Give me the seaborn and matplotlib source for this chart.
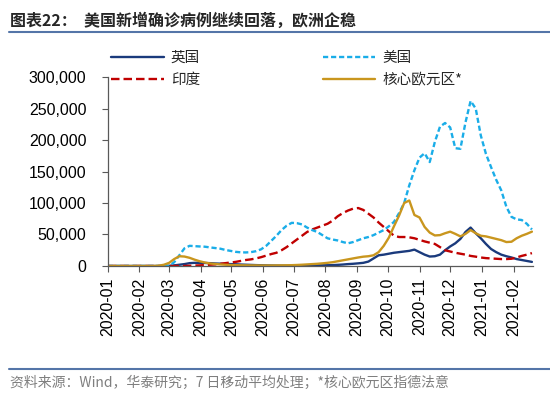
import numpy as np
import pandas as pd
import matplotlib
matplotlib.use("Agg")
import matplotlib.pyplot as plt
import matplotlib.dates as mdates
from matplotlib.ticker import FuncFormatter
from matplotlib.lines import Line2D
import seaborn as sns

# 7日移动平均，每5天取一个点（单位：千例）
dates = pd.date_range("2020-01-01", "2021-02-20", freq="5D")

uk = [0, 0, 0, 0, 0, 0, 0, 0, 0, 0, 0, 0,
      0.3, 1, 2, 3, 4.5, 5, 5, 4.8, 4.5, 4, 3.7, 3.3,
      3, 2.7, 2.3, 2, 1.7, 1.4, 1.2, 1, 0.8, 0.7, 0.6, 0.6,
      0.6, 0.6, 0.7, 0.8, 0.9, 1.0, 1.1, 1.2, 1.4, 1.8, 2.3, 3,
      3.5, 4.2, 5, 7, 12, 17, 18, 19.5, 21, 22, 23, 24,
      26, 22, 18, 15, 15.5, 18, 25, 31, 36, 43, 54, 61,
      52, 44, 35, 27, 22, 18, 15.5, 13.5, 11, 9.5, 8, 6.5]

us = [0, 0, 0, 0, 0, 0, 0, 0, 0, 0, 0, 0,
      0.5, 6, 17, 28, 32, 31.5, 31, 30.6, 29.5, 28.5, 27.5, 25.5,
      24, 22.5, 21.7, 21.5, 22, 23.5, 26.5, 32, 40, 48, 57, 64,
      68.5, 68, 66, 61, 57, 54, 49, 44, 42, 40.5, 38, 36,
      38, 41, 44, 46, 49, 53, 57, 63, 70, 84, 100, 128,
      152, 172, 179, 165, 197, 221, 227, 220, 187, 186, 228, 262,
      250, 207, 178, 157, 137, 120, 94, 78, 74, 73, 67, 58]

india = [0, 0, 0, 0, 0, 0, 0, 0, 0, 0, 0, 0,
         0, 0, 0, 0, 0.3, 0.7, 1, 1.5, 2, 2.5, 3.5, 4.5,
         5.5, 6.5, 8, 9.5, 10.5, 12, 14, 16.5, 19, 21, 25, 30,
         36, 42, 48, 54, 58, 61, 64, 67, 72, 79, 84, 88,
         91, 92, 89, 83, 77, 69, 62, 55, 48, 46, 46, 45.5,
         44, 41.5, 39, 37, 35, 30, 25, 23, 21, 19.5, 18, 16,
         14.8, 13.5, 12.5, 12, 11.5, 11, 11, 11.5, 13.5, 16, 18, 20.5]

core_ez = [0, 0, 0, 0, 0, 0, 0, 0, 0, 0, 0.5, 2,
           5, 11, 15.5, 15, 13, 10, 7.5, 5.5, 4, 3.2, 2.5, 2,
           1.6, 1.3, 1.1, 1, 0.9, 0.9, 0.8, 0.8, 0.8, 0.9, 1, 1.1,
           1.3, 1.6, 2, 2.5, 3, 3.5, 4.2, 5, 6, 7.5, 9, 10.5,
           12, 13.5, 14.8, 15.5, 17, 22, 32, 45, 63, 80, 100, 104,
           81, 77, 62, 53, 48.5, 49, 52, 54.5, 51, 47, 51, 57,
           52, 48, 47, 45, 43, 41, 38, 38.5, 44, 48, 51, 54.5]

series = [
    ("英国", uk, "#1A3A7C", None),
    ("印度", india, "#C00000", (3.6, 1.7)),
    ("美国", us, "#1AADE8", (2.2, 1.2)),
    ("核心欧元区*", core_ez, "#C9961E", None),
]

sns.set_style("white")
plt.rcParams["font.family"] = ["Noto Sans CJK SC", "DejaVu Sans"]
plt.rcParams["axes.unicode_minus"] = False

fig = plt.figure(figsize=(5.5, 3.97), dpi=100)
ax = fig.add_axes([0.196, 0.33, 0.773, 0.476])

handles = []
for name, vals, color, dash in series:
    sns.lineplot(x=dates, y=np.array(vals) * 1000, ax=ax, color=color,
                 linewidth=1.7, label=name)
    line = ax.lines[-1]
    if dash is not None:
        line.set_dashes(dash)
    handles.append(Line2D([0], [0], color=color, linewidth=line.get_linewidth(),
                          dashes=dash if dash is not None else (None, None)))
ax.get_legend().remove()

ax.set_xlim(pd.Timestamp("2020-01-01"), pd.Timestamp("2021-02-20"))
ax.set_ylim(0, 300000)
ax.set_yticks(np.arange(0, 300001, 50000))
ax.yaxis.set_major_formatter(FuncFormatter(lambda v, p: f"{int(v):,}"))
ax.xaxis.set_major_locator(mdates.MonthLocator())
ax.xaxis.set_major_formatter(mdates.DateFormatter("%Y-%m"))
ax.set_xlabel("")
ax.set_ylabel("")

for s in ["top", "right"]:
    ax.spines[s].set_visible(False)
for s in ["left", "bottom"]:
    ax.spines[s].set_color("#595959")
    ax.spines[s].set_linewidth(0.9)

ax.tick_params(axis="y", direction="out", length=4.3, width=0.8, color="#595959",
               pad=11, left=True, labelsize=11.5)
ax.tick_params(axis="x", direction="out", length=4.3, width=0.8, color="#595959",
               pad=4, bottom=True, labelsize=11.5, labelrotation=90)
for lab in ax.get_xticklabels() + ax.get_yticklabels():
    lab.set_fontfamily("Liberation Sans")
    lab.set_color("black")

# 图例：两列，英国/印度 在左，美国/核心欧元区 在右
fig.legend(handles, [s[0] for s in series], loc="upper left",
           bbox_to_anchor=(0.178, 0.905), ncol=2, frameon=False,
           fontsize=10.5, handlelength=3.6, columnspacing=8.4,
           labelspacing=0.55, handletextpad=0.5)

# 标题和分隔线
fig.text(0.018, 0.947, "图表22：  美国新增确诊病例继续回落，欧洲企稳",
         fontsize=11.5, fontweight="bold", va="center", ha="left")
fig.add_artist(Line2D([0.016, 1.0], [0.919, 0.919], color="#5475A8",
                      linewidth=1.5, transform=fig.transFigure))
fig.add_artist(Line2D([0.016, 1.0], [0.071, 0.071], color="#5475A8",
                      linewidth=1.5, transform=fig.transFigure))
fig.text(0.018, 0.035, "资料来源：Wind，华泰研究；7 日移动平均处理；*核心欧元区指德法意",
         fontsize=10, color="#7F7F7F", va="center", ha="left")

fig.savefig("out.png", dpi=100)
